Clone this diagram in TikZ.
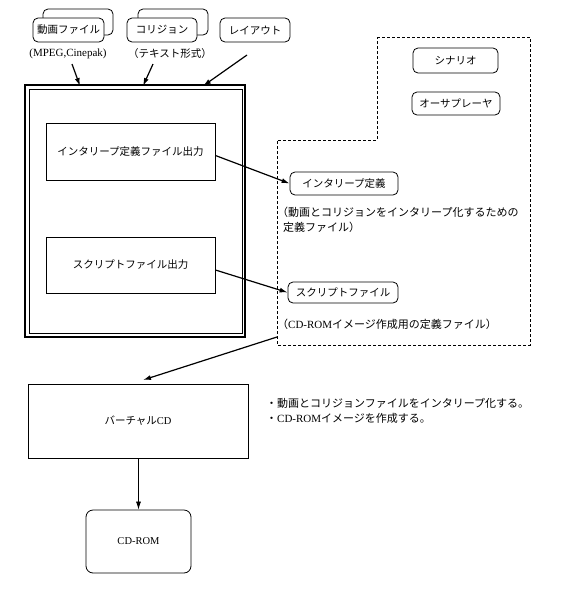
\documentclass[tikz,border=0pt]{standalone}
\usepackage{fontspec}
\setmainfont{Liberation Serif}
\newfontfamily\jp{Noto Sans CJK JP}
\usetikzlibrary{arrows.meta}
\begin{document}
\begin{tikzpicture}[x=1pt,y=-1pt,
  font=\jp\fontsize{10.5}{13}\selectfont,
  rbox/.style={draw, rounded corners=5pt, fill=white, line width=0.8pt, inner sep=0pt},
  sqbox/.style={draw, line width=0.9pt, inner sep=0pt},
  arr/.style={line width=1.2pt, -{Latex[length=8pt,width=5pt]}},
  thinarr/.style={line width=0.7pt, -{Latex[length=8pt,width=5pt]}},
  dashbox/.style={line width=0.9pt, dash pattern=on 3pt off 2pt},
  note/.style={anchor=west, inner sep=0pt, align=left, font=\jp\fontsize{11}{14.5}\selectfont},
]
\useasboundingbox (0,0) rectangle (560,600);

% top inputs
\node[rbox, minimum width=70pt, minimum height=26pt] (dougaB) at (78,22) {};
\node[rbox, minimum width=71pt, minimum height=24pt] (douga) at (68.5,30) {動画ファイル};
\node[rbox, minimum width=70pt, minimum height=26pt] (collB) at (173,22) {};
\node[rbox, minimum width=70pt, minimum height=24pt] (coll) at (162,30) {コリジョン};
\node[rbox, minimum width=70pt, minimum height=24pt] (layout) at (255,30) {レイアウト};
\node[inner sep=0pt] (mpeg) at (68,54) {\rmfamily\fontsize{11}{13}\selectfont (MPEG,Cinepak)};
\node[inner sep=0pt] (txt) at (170,54) {（テキスト形式）};

% tool box
\node[sqbox, line width=1.5pt, minimum width=220pt, minimum height=252pt] (tool) at (135,211) {};
\node[sqbox, line width=0.6pt, minimum width=213pt, minimum height=244pt] (toolIn) at (135.5,211) {};
\node[sqbox, minimum width=169pt, minimum height=57pt] (out1) at (130.5,151.5) {インタリープ定義ファイル出力};
\node[sqbox, minimum width=169pt, minimum height=56pt] (out2) at (130.5,265) {スクリプトファイル出力};

\coordinate (a1s) at (72,64);
\coordinate (a2s) at (153,64);
\coordinate (a3s) at (247,55);
\coordinate (a1e) at (80,86);
\coordinate (a2e) at (143,86);
\coordinate (a3e) at (203,86);
\draw[arr] (a1s) -- (a1e);
\draw[arr] (a2s) -- (a2e);
\draw[arr] (a3s) -- (a3e);

% dashed region
\coordinate (d1) at (377,37);
\coordinate (d2) at (530,37);
\coordinate (d3) at (530,345);
\coordinate (d4) at (277,345);
\coordinate (d5) at (277,140);
\coordinate (d6) at (377,140);
\draw[dashbox] (d1) -- (d2) -- (d3) -- (d4) -- (d5) -- (d6) -- cycle;

\node[rbox, minimum width=85pt, minimum height=25pt] (scen) at (455.5,60.5) {シナリオ};
\node[rbox, minimum width=88pt, minimum height=23pt] (auth) at (456,103.5) {オーサプレーヤ};

\node[rbox, minimum width=108pt, minimum height=23pt] (ildef) at (344,183.5) {インタリープ定義};
\node[note] (ilnote) at (277,220) {（動画とコリジョンをインタリープ化するための\\\hspace*{6pt}定義ファイル）};
\node[rbox, minimum width=110pt, minimum height=21pt] (scr) at (343,292.5) {スクリプトファイル};
\node[note] (scrnote) at (277,324) {（{\rmfamily CD-ROM}イメージ作成用の定義ファイル）};

\draw[arr] ([yshift=-4pt]out1.east) -- (ildef.west);
\draw[arr] ([yshift=-5pt]out2.east) -- (scr.west);

% virtual CD
\node[sqbox, minimum width=220pt, minimum height=74pt] (vcd) at (138,421) {バーチャル{\rmfamily CD}};
\coordinate (dA) at (277,337);
\coordinate (vcdTip) at (143,380);
\draw[arr] (dA) -- (vcdTip);
\node[note] (vnote) at (266,411) {・動画とコリジョンファイルをインタリープ化する。\\・{\rmfamily CD-ROM}イメージを作成する。};

\node[rbox, rounded corners=7pt, minimum width=105pt, minimum height=63pt] (cdrom) at (138.5,541.5) {\rmfamily CD-ROM};
\draw[thinarr] (vcd.south -| cdrom.north) -- (cdrom.north);
\end{tikzpicture}
\end{document}
